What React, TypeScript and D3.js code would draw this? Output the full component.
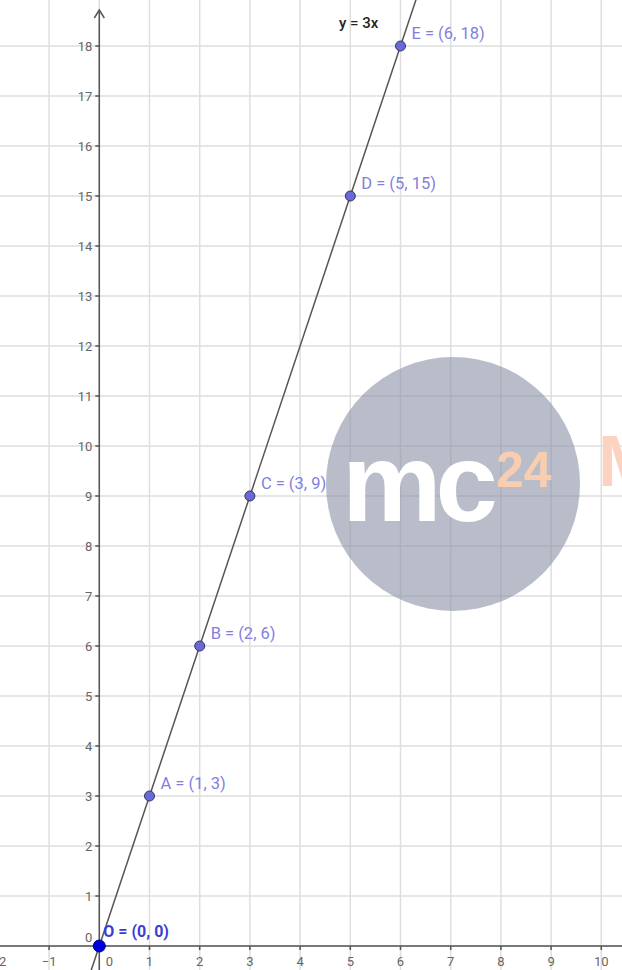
import React from 'react'
import * as d3 from 'd3'

const width = 622
const height = 970

// points on y = 3x
const pointNames = ['A', 'B', 'C', 'D', 'E']
const pointX = [1, 2, 3, 5, 6]
const pointY = [3, 6, 9, 15, 18]
const slope = 3

const xTicks = [-2, -1, 0, 1, 2, 3, 4, 5, 6, 7, 8, 9, 10, 11]
const yTicks = d3.range(0, 19)

const xScale = d3.scaleLinear().domain([0, 10]).range([99.3, 601.3])
const yScale = d3.scaleLinear().domain([0, 18]).range([946, 46])

const gridColor = '#dedede'
const axisColor = '#555'
const labelColor = '#666'
const pointLabel = '#7f7fe0'

function App() {
  const lineGen = d3.line<number>().x(d => xScale(d)).y(d => yScale(slope * d))
  const lineXs = [-0.5, 6.5]

  return (
    <svg width={width} height={height} style={{ position: 'absolute', left: 0, top: 0, background: '#fff' }}
      fontFamily="Roboto, 'DejaVu Sans', sans-serif">
      <defs>
        <clipPath id="plot"><rect x={0} y={0} width={width} height={height} /></clipPath>
      </defs>

      {/* grid */}
      {xTicks.map(t => (
        <line key={'gx' + t} x1={xScale(t)} x2={xScale(t)} y1={0} y2={height} stroke={gridColor} strokeWidth={1.5} />
      ))}
      {yTicks.map(t => (
        <line key={'gy' + t} x1={0} x2={width} y1={yScale(t)} y2={yScale(t)} stroke={gridColor} strokeWidth={1.5} />
      ))}

      {/* axes */}
      <line x1={0} x2={width} y1={yScale(0)} y2={yScale(0)} stroke={axisColor} strokeWidth={1.5} />
      <line x1={xScale(0)} x2={xScale(0)} y1={height} y2={10} stroke={axisColor} strokeWidth={1.5} />
      <path d={`M${xScale(0) - 5},${18} L${xScale(0)},${10} L${xScale(0) + 5},${18}`} fill="none" stroke={axisColor} strokeWidth={1.5} />

      {/* tick marks and labels */}
      {xTicks.filter(t => t !== 0).map(t => (
        <g key={'xt' + t}>
          <line x1={xScale(t)} x2={xScale(t)} y1={yScale(0)} y2={yScale(0) + 4} stroke={axisColor} strokeWidth={1.5} />
          <text x={xScale(t)} y={yScale(0) + 20} textAnchor="middle" fontSize={13} fill={labelColor}>
            {t < 0 ? '\u2212' + Math.abs(t) : t}
          </text>
        </g>
      ))}
      <text x={xScale(0) + 10} y={yScale(0) + 20} textAnchor="middle" fontSize={13} fill={labelColor}>0</text>
      {yTicks.map(t => (
        <g key={'yt' + t}>
          <line x1={xScale(0) - 4} x2={xScale(0)} y1={yScale(t)} y2={yScale(t)} stroke={axisColor} strokeWidth={1.5} />
          <text x={xScale(0) - 7} y={t === 0 ? yScale(t) - 4 : yScale(t) + 5} textAnchor="end" fontSize={13} fill={labelColor}>{t}</text>
        </g>
      ))}

      {/* watermark */}
      <g fontFamily="'Liberation Sans', Arial, sans-serif" fontWeight="bold">
        <circle cx={453} cy={484} r={127} fill="#8a91a6" opacity={0.6} />
        <text x={342} y={521} fontSize={112} fill="#fff" letterSpacing={-6}>mc</text>
        <text x={496} y={487} fontSize={50} fill="#f8cdb0">24</text>
        <text x={598} y={486} fontSize={72} fill="#fbd3c0">M</text>
      </g>

      {/* line y = 3x */}
      <path d={lineGen(lineXs) ?? ''} fill="none" stroke="#555" strokeWidth={1.5} clipPath="url(#plot)" />
      <text x={339} y={28} fontSize={15} fontWeight={500} fill="#222">y = 3x</text>

      {/* points */}
      {pointNames.map((n, i) => (
        <g key={n}>
          <circle cx={xScale(pointX[i])} cy={yScale(pointY[i])} r={5} fill="#6a6ad6" stroke="#333366" strokeWidth={1} />
          <text x={xScale(pointX[i]) + 11} y={yScale(pointY[i]) - 7} fontSize={16.5} fill={pointLabel}>
            {`${n} = (${pointX[i]}, ${pointY[i]})`}
          </text>
        </g>
      ))}
      <circle cx={xScale(0)} cy={yScale(0)} r={6} fill="#0000dd" stroke="#000088" strokeWidth={1} />
      <text x={xScale(0) + 4} y={yScale(0) - 9} fontSize={16} fontWeight="bold" fill="#3b3bd6">O = (0, 0)</text>
    </svg>
  )
}

export default App
